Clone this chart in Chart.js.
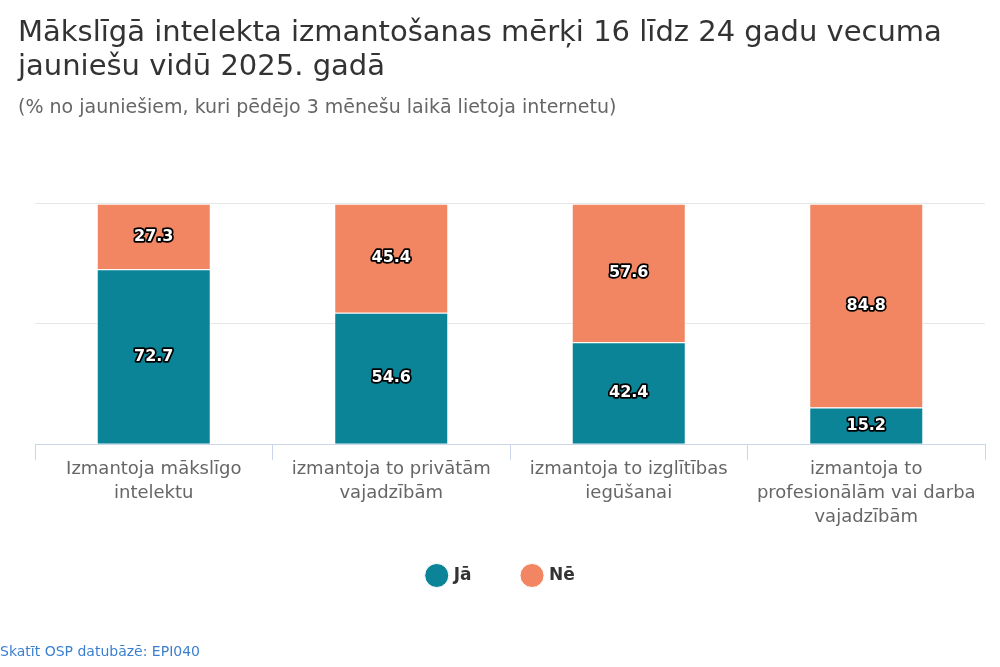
<!DOCTYPE html>
<html>
<head>
<meta charset="utf-8">
<script src="https://cdn.jsdelivr.net/npm/chart.js@4.4.0/dist/chart.umd.min.js"></script>
<style>
  html, body { margin: 0; padding: 0; background: #fff; }
  #wrap { position: relative; width: 1000px; height: 667px; }
  #credit { position: absolute; left: 0; top: 643px; font: 14px "DejaVu Sans", sans-serif; color: #3b7fd1; }
</style>
</head>
<body>
<div id="wrap">
  <canvas id="bar-chart" width="1000" height="667"></canvas>
  <div id="credit">Skatīt OSP datubāzē: EPI040</div>
</div>
<script>
// kategorijas
var categories = [
  ["Izmantoja mākslīgo", "intelektu"],
  ["izmantoja to privātām", "vajadzībām"],
  ["izmantoja to izglītības", "iegūšanai"],
  ["izmantoja to", "profesionālām vai darba", "vajadzībām"]
];
var yes_values = [72.7, 54.6, 42.4, 15.2];
var no_values = [27.3, 45.4, 57.6, 84.8];
var y_ticks = [0, 50, 100];

var FONT = "'DejaVu Sans', sans-serif";

// vērtību etiķetes ar melnu kontūru
var barLabels = {
  id: 'barLabels',
  afterLayout: function (chart) {
    // leģendu pabīda nedaudz uz augšu
    chart.legend.top -= 11;
    chart.legend.bottom -= 11;
  },
  afterDatasetsDraw: function (chart) {
    var ctx = chart.ctx;
    ctx.save();
    ctx.font = 'bold 16px ' + FONT;
    ctx.textAlign = 'center';
    ctx.textBaseline = 'middle';
    ctx.lineJoin = 'round';
    chart.data.datasets.forEach(function (ds, i) {
      chart.getDatasetMeta(i).data.forEach(function (bar, j) {
        var y = (bar.y + bar.base) / 2;
        var txt = ds.data[j].toFixed(1);
        ctx.lineWidth = 3.5;
        ctx.strokeStyle = '#000';
        ctx.strokeText(txt, bar.x, y);
        ctx.fillStyle = '#fff';
        ctx.fillText(txt, bar.x, y);
      });
    });
    ctx.restore();
  }
};

var ctx = document.getElementById('bar-chart').getContext('2d');
var chart = new Chart(ctx, {
  type: 'bar',
  data: {
    labels: categories,
    datasets: [{
      label: 'Jā',
      data: yes_values,
      backgroundColor: '#0b8497',
      borderColor: '#ffffff',
      borderWidth: 1
    }, {
      label: 'Nē',
      data: no_values,
      backgroundColor: '#f28663',
      borderColor: '#ffffff',
      borderWidth: 1
    }]
  },
  options: {
    responsive: false,
    animation: false,
    devicePixelRatio: 1,
    layout: { padding: { left: 18, right: 15, top: 17, bottom: 62 } },
    datasets: { bar: { categoryPercentage: 1, barPercentage: 0.48 } },
    scales: {
      x: {
        stacked: true,
        grid: { display: true, drawOnChartArea: false, drawTicks: true, tickLength: 16, color: '#ccd6eb', offset: true },
        border: { color: '#ccd6eb' },
        ticks: { color: '#666', font: { family: FONT, size: 18, lineHeight: 1.33 }, padding: -3, maxRotation: 0 }
      },
      y: {
        stacked: true,
        min: 0, max: 100,
        afterBuildTicks: function (s) { s.ticks = y_ticks.map(function (v) { return { value: v }; }); },
        afterFit: function (s) { s.width = 17; },
        ticks: { display: false },
        grid: { color: '#e6e6e6', drawTicks: false },
        border: { display: false }
      }
    },
    plugins: {
      title: {
        display: true,
        align: 'start',
        text: ['Mākslīgā intelekta izmantošanas mērķi 16 līdz 24 gadu vecuma', 'jauniešu vidū 2025. gadā'],
        color: '#333',
        font: { family: FONT, size: 29, weight: 'normal', lineHeight: 1.17 },
        padding: { top: 0, bottom: 12 }
      },
      subtitle: {
        display: true,
        align: 'start',
        text: '(% no jauniešiem, kuri pēdējo 3 mēnešu laikā lietoja internetu)',
        color: '#666',
        font: { family: FONT, size: 19 },
        padding: { top: 0, bottom: 84 }
      },
      legend: {
        position: 'bottom',
        labels: {
          usePointStyle: true,
          pointStyle: 'circle',
          boxWidth: 18, boxHeight: 18,
          padding: 52,
          color: '#333',
          font: { family: FONT, size: 17, weight: 'bold' }
        }
      },
      tooltip: { enabled: false }
    }
  },
  plugins: [barLabels]
});
</script>
</body>
</html>
